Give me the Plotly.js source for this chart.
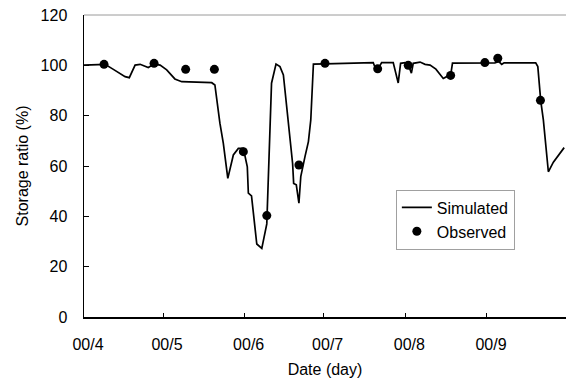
<!DOCTYPE html>
<html>
<head>
<meta charset="utf-8">
<script src="https://cdn.plot.ly/plotly-3.0.1.min.js"></script>
<style>html,body{margin:0;padding:0;background:#fff;}#chart{width:568px;height:381px;}</style>
</head>
<body>
<div id="chart"></div>
<script>
// Days counted from 1 April 2000
const simDays = [0, 6, 8, 11, 15.6, 17.2, 19.4, 21.3, 24.4, 26.6, 28.9, 31.4, 34.5, 37.1, 42, 48.5, 49.7, 51.6, 52.9, 54.6, 56.7, 58.6, 60.5, 62, 62.4, 63.6, 65.6, 67.5, 69.4, 70, 71.2, 72.9, 74.4, 75.7, 77.2, 79.2, 79.6, 80.6, 81.6, 82.3, 83.9, 85.2, 86.1, 87.1, 91.5, 100, 102, 109.8, 111.1, 112.4, 113, 117.4, 119.3, 120.2, 121.9, 123.1, 124.3, 125, 127.6, 129.5, 131.4, 133.6, 136.4, 137.7, 139.2, 139.9, 152, 156, 157.5, 158.6, 159.5, 171.5, 172.3, 173.4, 174.4, 176.3, 178.2, 182.3];
const simValues = [100.1, 100.3, 100.4, 98.5, 95.5, 95.1, 100.1, 100.4, 99.1, 100.5, 100.1, 98.2, 94.6, 93.5, 93.3, 93.1, 92.2, 77, 69, 55.1, 64.4, 67.0, 67, 59.7, 49.2, 48.1, 29.0, 27.3, 37, 58.4, 92.9, 100.5, 99.5, 96.2, 80, 61, 53.1, 52.5, 45.2, 55.8, 63.7, 69.7, 78.3, 100.5, 100.6, 100.8, 101.1, 101.1, 97.5, 100.3, 101.1, 101.1, 93, 100.8, 101.1, 100.3, 96.9, 100.8, 101.3, 100.4, 100.1, 98.5, 94.8, 95.5, 96.0, 100.9, 100.9, 101.0, 101.5, 100.4, 101.0, 101.0, 99.5, 86, 78.3, 57.7, 61.5, 67.3];
const obsDays = [7.6, 26.6, 38.6, 49.5, 60.5, 69.4, 81.6, 91.5, 111.5, 123.1, 139.2, 152.2, 157.1, 173.3];
const obsValues = [100.4, 100.8, 98.4, 98.4, 65.7, 40.3, 60.4, 100.8, 98.6, 100.0, 96.0, 101.1, 102.8, 86.1];
const monthStarts = [0, 30, 61, 91, 122, 153];
const monthLabels = ['00/4', '00/5', '00/6', '00/7', '00/8', '00/9'];
const yTicks = [0, 20, 40, 60, 80, 100, 120];

const FONT = 'Liberation Sans, Arial, Helvetica, sans-serif';

const traces = [
  {x: simDays, y: simValues, mode: 'lines', name: 'Simulated',
   line: {color: '#000', width: 1.7}},
  {x: obsDays, y: obsValues, mode: 'markers', name: 'Observed',
   marker: {color: '#000', size: 9}}
];

const layout = {
  width: 568, height: 381,
  margin: {l: 84, r: 2, t: 15, b: 64},
  paper_bgcolor: '#fff', plot_bgcolor: '#fff',
  font: {family: FONT, color: '#000', size: 16},
  showlegend: true,
  legend: {x: 0.647, y: 0.422, xanchor: 'left', yanchor: 'top',
    bgcolor: '#fff', bordercolor: '#a0a0a0', borderwidth: 1,
    font: {family: FONT, size: 16, color: '#000'}, tracegroupgap: 0},
  xaxis: {
    range: [0, 183], tickmode: 'array', tickvals: monthStarts, ticktext: monthLabels,
    ticks: 'inside', ticklen: 4, tickcolor: '#000', showgrid: false, zeroline: false,
    showline: true, linecolor: '#000', linewidth: 1.5,
    ticklabelstandoff: 12, ticklabelshift: 4,
    tickfont: {family: FONT, size: 16, color: '#000'},
    title: {text: 'Date (day)', font: {family: FONT, size: 16, color: '#000'}, standoff: 12}
  },
  yaxis: {
    range: [0, 120], tickmode: 'array', tickvals: yTicks,
    ticks: 'inside', ticklen: 5, tickcolor: '#000', showgrid: false, zeroline: false,
    showline: true, linecolor: '#000', linewidth: 1.5,
    ticklabelstandoff: 12,
    tickfont: {family: FONT, size: 16, color: '#000'},
    title: {text: 'Storage ratio (%)', font: {family: FONT, size: 16, color: '#000'}, standoff: 8}
  },
  shapes: [
    {type: 'line', xref: 'paper', yref: 'paper', x0: 0, x1: 1, y0: 1, y1: 1,
     line: {color: '#9a9a9a', width: 1}}
  ]
};

Plotly.newPlot('chart', traces, layout, {staticPlot: true, displayModeBar: false});
</script>
</body>
</html>
